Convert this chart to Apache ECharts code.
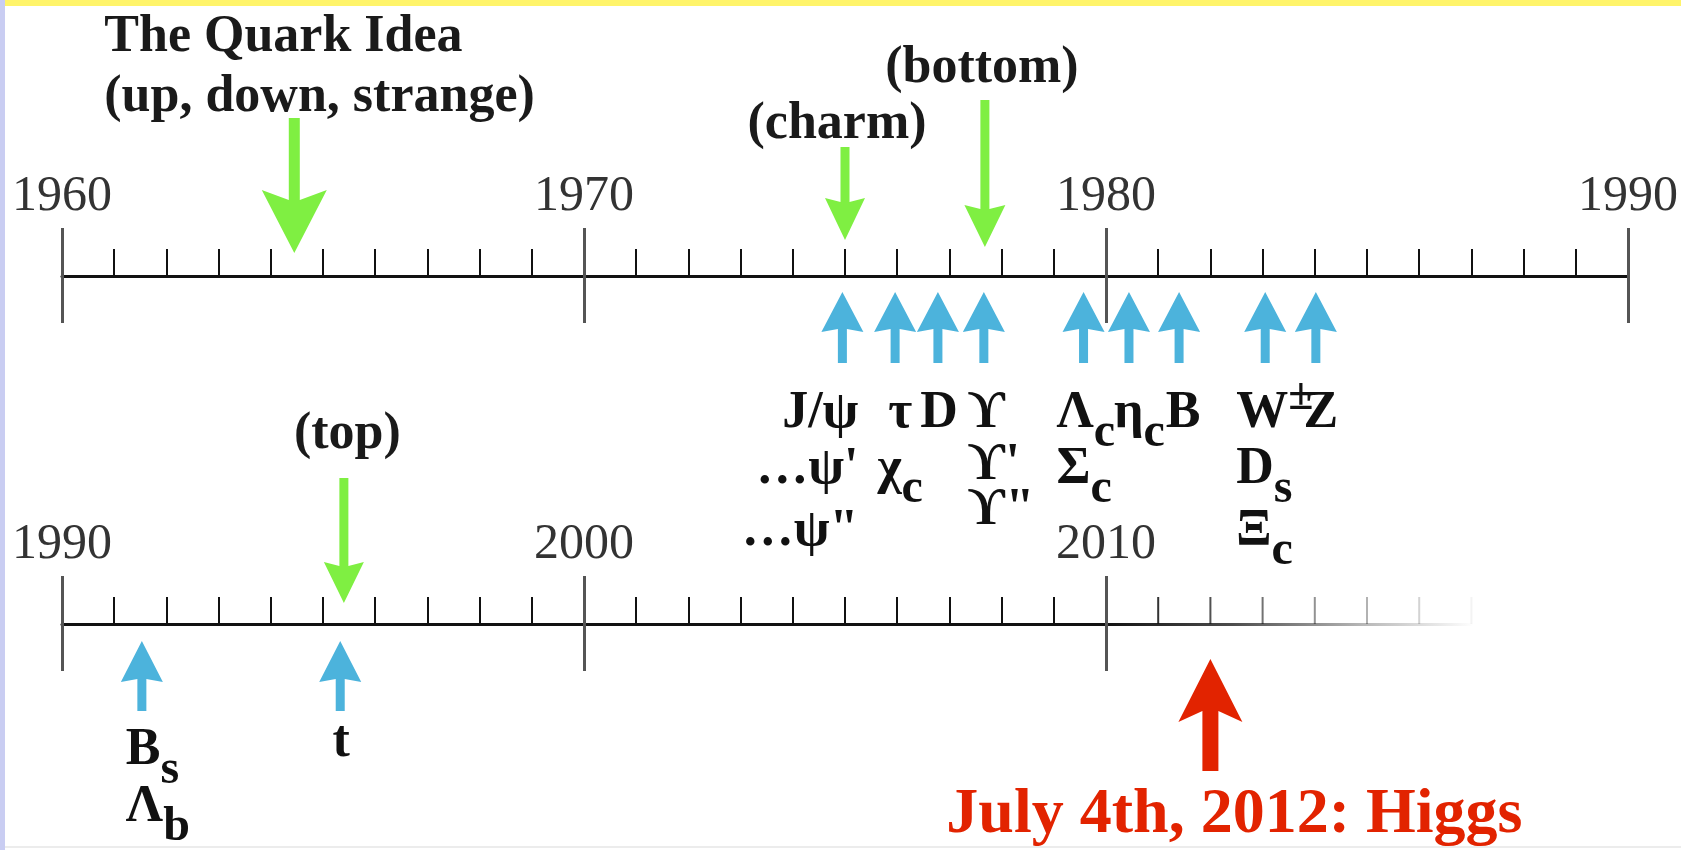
<!DOCTYPE html>
<html><head><meta charset="utf-8">
<script src="https://cdn.jsdelivr.net/npm/echarts@6/dist/echarts.min.js"></script>
<style>html,body{margin:0;padding:0;background:#fff}#c{width:1681px;height:850px}</style>
</head><body><div id="c"></div>
<script>
// ---------------- data ----------------
const topAxisYears = [1960, 1970, 1980, 1990];
const bottomAxisYears = [1990, 2000, 2010];
const fadeAxisYears = [2010, 2017];
const fadeTickYears = [2011, 2012, 2013, 2014, 2015, 2016, 2017];

const quarkIdeaYears = [1964.45, 1975.0, 1977.68];
const quarkIdeaLabels = ['The Quark Idea\n(up, down, strange)', '(charm)', '(bottom)'];

const topDiscoveryYears = [1974.95, 1975.96, 1976.78, 1977.66, 1979.57, 1980.44, 1981.40, 1983.05, 1984.02];
const topDiscoveryLabels = [
  ['J/ψ', '…ψ\'', '…ψ"'],
  ['τ', 'χ{s|c}'],
  ['D'],
  ['ϒ', 'ϒ\'', 'ϒ"'],
  ['Λ{s|c}', 'Σ{s|c}'],
  ['η{s|c}'],
  ['B'],
  ['W{p|±}', 'D{s|s}', 'Ξ{s|c}'],
  ['Z']
];

const topQuarkYears = [1995.4];
const topQuarkLabels = ['(top)'];

const lateDiscoveryYears = [1991.53, 1995.33];
const lateDiscoveryLabels = [['B{s|s}', 'Λ{s|b}'], ['t']];

const higgsYears = [2012.0];
const higgsLabels = ['July 4th, 2012: Higgs'];

// ---------------- layout / style ----------------
const YEAR_PX = 52.2;
const X0 = 62;
const SERIF = "'Liberation Serif','DejaVu Serif',serif";
const GREEN = '#7fef42', BLUE = '#4cb3dc', RED = '#e22300';
const INK = '#111';

const greenTopGeom = [
  {tail: 118, base: 190, tip: 253, notch: 10, hw: 65, sw: 11},
  {tail: 147, base: 198, tip: 240, notch: 4, hw: 40, sw: 9},
  {tail: 100, base: 205, tip: 247, notch: 4, hw: 41, sw: 9}
];
const quarkLabelLayout = [
  {align: 'left', dx: -190, y: 67.5},
  {align: 'center', dx: -8, y: 125},
  {align: 'center', dx: -3, y: 69}
];
const blueTopGeom = {tip: 292, base: 332, tail: 363, notch: 3, hw: 42, sw: 9};
const topLabelLayout = [
  {align: 'right', dx: 16, rows: 'normal'},
  {align: 'center', dx: 5, rows: 'normal'},
  {align: 'center', dx: 1, rows: 'normal'},
  {align: 'left', dx: -16, rows: 'tight'},
  {align: 'left', dx: -27, rows: 'normal'},
  {align: 'left', dx: -15, rows: 'normal'},
  {align: 'center', dx: 4, rows: 'normal'},
  {align: 'left', dx: -29, rows: 'normal'},
  {align: 'center', dx: 5, rows: 'normal'}
];
const rowY = {normal: [414, 470, 532], tight: [414, 466, 511]};

const greenBottomGeom = {tail: 478, base: 562, tip: 603, notch: 4, hw: 40, sw: 9};
const blueBottomGeom = {tip: 641, base: 682, tail: 711, notch: 3, hw: 42, sw: 9};
const lateLabelLayout = [
  {align: 'left', dx: -16, rows: [751, 808]},
  {align: 'center', dx: 1, rows: [743]}
];
const redGeom = {tip: 659, base: 722, tail: 771, notch: 11, hw: 64, sw: 16};

const partRich = {
  s: {fontSize: 48, fontFamily: SERIF, fontWeight: 'bold', fill: INK, padding: [40, 0, 0, 0]},
  p: {fontSize: 46, fontFamily: SERIF, fontWeight: 'bold', fill: INK, padding: [0, 0, 34, 0]}
};

function downArrow(x, g, color) {
  const hw = g.hw / 2, sw = g.sw / 2;
  return {type: 'polygon', shape: {points: [[x, g.tip], [x + hw, g.base], [x + sw, g.base + g.notch], [x + sw, g.tail],
    [x - sw, g.tail], [x - sw, g.base + g.notch], [x - hw, g.base]]}, style: {fill: color}};
}
function upArrow(x, g, color) {
  const hw = g.hw / 2, sw = g.sw / 2;
  return {type: 'polygon', shape: {points: [[x, g.tip], [x + hw, g.base], [x + sw, g.base - g.notch], [x + sw, g.tail],
    [x - sw, g.tail], [x - sw, g.base - g.notch], [x - hw, g.base]]}, style: {fill: color}};
}
function label(x, y, text, align, extra) {
  return {type: 'text', x: x, y: y, style: Object.assign({
    text: text, align: align, verticalAlign: 'middle', fontFamily: SERIF, fontWeight: 'bold', fontSize: 52, fill: INK,
    rich: partRich
  }, extra || {})};
}

function mainAxis(gridIndex, years) {
  return {
    type: 'value', gridIndex: gridIndex, min: years[0], max: years[years.length - 1], interval: 10, position: 'bottom',
    axisLine: {show: true, onZero: false, lineStyle: {color: INK, width: 3}},
    axisTick: {show: true, inside: true, length: 48, lineStyle: {color: '#555', width: 3}},
    minorTick: {show: true, splitNumber: 10, length: 27, lineStyle: {color: INK, width: 2}},
    splitLine: {show: false}, minorSplitLine: {show: false},
    axisLabel: {show: true, inside: true, margin: 54, fontFamily: SERIF, fontSize: 50, color: '#333',
      formatter: v => String(v), showMinLabel: true, showMaxLabel: true}
  };
}
function downTickAxis(gridIndex, years) {
  return {
    type: 'value', gridIndex: gridIndex, min: years[0], max: years[years.length - 1], interval: 10, position: 'bottom',
    axisLine: {show: false, onZero: false},
    axisTick: {show: true, inside: false, length: 47, lineStyle: {color: '#555', width: 3}},
    minorTick: {show: false}, splitLine: {show: false}, axisLabel: {show: false}
  };
}

const chart = echarts.init(document.getElementById('c'), null, {renderer: 'canvas'});
const option = {
  animation: false,
  backgroundColor: '#ffffff',
  grid: [
    {left: X0, top: 0, width: (topAxisYears[3] - topAxisYears[0]) * YEAR_PX, height: 276, outerBoundsMode: 'none'},
    {left: X0, top: 0, width: (bottomAxisYears[2] - bottomAxisYears[0]) * YEAR_PX, height: 624, outerBoundsMode: 'none'},
    {left: X0 + (fadeAxisYears[0] - bottomAxisYears[0]) * YEAR_PX, top: 0,
     width: (fadeAxisYears[1] - fadeAxisYears[0]) * YEAR_PX, height: 624, outerBoundsMode: 'none'}
  ],
  xAxis: [
    mainAxis(0, topAxisYears),
    downTickAxis(0, topAxisYears),
    mainAxis(1, bottomAxisYears),
    downTickAxis(1, bottomAxisYears),
    {
      type: 'value', gridIndex: 2, min: fadeAxisYears[0], max: fadeAxisYears[1], position: 'bottom',
      axisLine: {show: true, onZero: false, lineStyle: {width: 3, color: new echarts.graphic.LinearGradient(0, 0, 1, 0, [
        {offset: 0, color: 'rgba(17,17,17,1)'}, {offset: 0.35, color: 'rgba(17,17,17,0.75)'},
        {offset: 0.7, color: 'rgba(17,17,17,0.3)'}, {offset: 1, color: 'rgba(17,17,17,0)'}])}},
      axisTick: {show: false}, minorTick: {show: false}, splitLine: {show: false}, axisLabel: {show: false}
    }
  ],
  yAxis: [0, 1, 2].map(i => ({type: 'value', gridIndex: i, min: 0, max: 1, show: false})),
  graphic: [
    {type: 'rect', silent: true, shape: {x: 0, y: 0, width: 1681, height: 6}, style: {fill: '#fff46a'}},
    {type: 'rect', silent: true, shape: {x: 0, y: 0, width: 5, height: 850}, style: {fill: '#c9cdf2'}},
    {type: 'rect', silent: true, shape: {x: 5, y: 846, width: 1676, height: 2}, style: {fill: '#ececec'}}
  ],
  series: [
    { // green quark arrows, top timeline
      type: 'custom', xAxisIndex: 0, yAxisIndex: 0,
      data: quarkIdeaYears.map(y => [y, 0]),
      renderItem: function (params, api) {
        const i = params.dataIndex;
        const x = api.coord([api.value(0), 0])[0];
        const L = quarkLabelLayout[i];
        const extra = i === 0 ? {lineHeight: 60, fill: '#1a1a1a'} : {fill: '#1a1a1a'};
        return {type: 'group', children: [
          downArrow(x, greenTopGeom[i], GREEN),
          label(x + L.dx, L.y, quarkIdeaLabels[i], L.align, extra)
        ]};
      }
    },
    { // blue discovery arrows, top timeline
      type: 'custom', xAxisIndex: 0, yAxisIndex: 0,
      data: topDiscoveryYears.map(y => [y, 0]),
      renderItem: function (params, api) {
        const i = params.dataIndex;
        const x = api.coord([api.value(0), 0])[0];
        const L = topLabelLayout[i];
        const ys = rowY[L.rows];
        const children = [upArrow(x, blueTopGeom, BLUE)];
        topDiscoveryLabels[i].forEach((t, r) => children.push(label(x + L.dx, ys[r], t, L.align)));
        return {type: 'group', children: children};
      }
    },
    { // green top-quark arrow, bottom timeline
      type: 'custom', xAxisIndex: 2, yAxisIndex: 1,
      data: topQuarkYears.map(y => [y, 0]),
      renderItem: function (params, api) {
        const i = params.dataIndex;
        const x = api.coord([api.value(0), 0])[0];
        return {type: 'group', children: [
          downArrow(x, greenBottomGeom, GREEN),
          label(x + 3.5, 435, topQuarkLabels[i], 'center', {fill: '#1a1a1a'})
        ]};
      }
    },
    { // blue discovery arrows, bottom timeline
      type: 'custom', xAxisIndex: 2, yAxisIndex: 1,
      data: lateDiscoveryYears.map(y => [y, 0]),
      renderItem: function (params, api) {
        const i = params.dataIndex;
        const x = api.coord([api.value(0), 0])[0];
        const L = lateLabelLayout[i];
        const children = [upArrow(x, blueBottomGeom, BLUE)];
        lateDiscoveryLabels[i].forEach((t, r) => children.push(label(x + L.dx, L.rows[r], t, L.align)));
        return {type: 'group', children: children};
      }
    },
    { // fading ticks after 2010
      type: 'custom', xAxisIndex: 4, yAxisIndex: 2,
      data: fadeTickYears.map(y => [y, 0]),
      renderItem: function (params, api) {
        const p = api.coord([api.value(0), 0]);
        const a = Math.max(0.04, 1 - (api.value(0) - fadeAxisYears[0]) / (fadeAxisYears[1] - fadeAxisYears[0]) * 0.95);
        return {type: 'line', shape: {x1: p[0], y1: p[1] - 27, x2: p[0], y2: p[1]},
          style: {stroke: 'rgba(17,17,17,' + a.toFixed(3) + ')', lineWidth: 2}};
      }
    },
    { // Higgs
      type: 'custom', xAxisIndex: 4, yAxisIndex: 2,
      data: higgsYears.map(y => [y, 0]),
      renderItem: function (params, api) {
        const i = params.dataIndex;
        const x = api.coord([api.value(0), 0])[0];
        return {type: 'group', children: [
          upArrow(x, redGeom, RED),
          label(x + 24, 815, higgsLabels[i], 'center', {fill: RED, fontSize: 64, fontFamily: "'Liberation Serif','Times New Roman',serif"})
        ]};
      }
    }
  ]
};
chart.setOption(option);
</script>
</body></html>
